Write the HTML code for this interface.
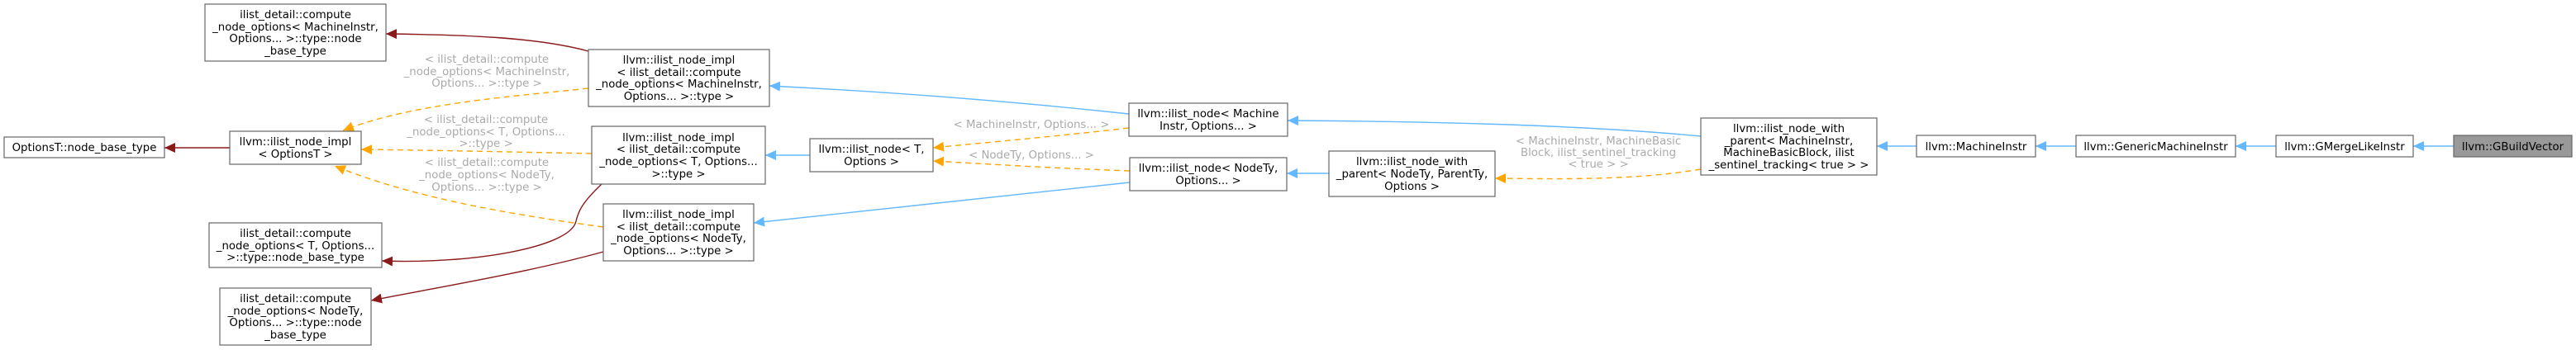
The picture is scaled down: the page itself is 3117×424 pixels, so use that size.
<!DOCTYPE html>
<html><head><meta charset="utf-8"><style>
html,body{margin:0;padding:0;background:#fff;}
svg{display:block;}
text{font-family:"DejaVu Sans","Liberation Sans",sans-serif;font-size:13.3px;fill:#000;text-anchor:middle;}
.l{fill:#aaaaaa;}
rect{fill:#fff;stroke:#666;stroke-width:1.2;}
.b{stroke:#63b8ff;fill:none;stroke-width:1.4;}
.r{stroke:#8b1a1a;fill:none;stroke-width:1.4;}
.o{stroke:#ffa500;fill:none;stroke-width:1.4;stroke-dasharray:7,5;}
</style></head><body>
<svg width="3117" height="424" viewBox="0 0 3117 424" xmlns="http://www.w3.org/2000/svg">
<defs>
<marker id="mb" markerUnits="userSpaceOnUse" markerWidth="14" markerHeight="12" refX="13" refY="6" orient="auto"><path d="M0,0 L13,6 L0,12 z" fill="#63b8ff"/></marker>
<marker id="mr" markerUnits="userSpaceOnUse" markerWidth="14" markerHeight="12" refX="13" refY="6" orient="auto"><path d="M0,0 L13,6 L0,12 z" fill="#8b1a1a"/></marker>
<marker id="mo" markerUnits="userSpaceOnUse" markerWidth="14" markerHeight="12" refX="13" refY="6" orient="auto"><path d="M0,0 L13,6 L0,12 z" fill="#ffa500"/></marker>
</defs>

<!-- edges -->
<path class="r" d="M278,179 L199,179" marker-end="url(#mr)"/>
<path class="r" d="M712,62 C650,45 560,42 467,41" marker-end="url(#mr)"/>
<path class="r" d="M728,223 C705,245 700,255 697,268 C690,300 570,320 462,316" marker-end="url(#mr)"/>
<path class="r" d="M730,305 C640,330 520,350 449,364" marker-end="url(#mr)"/>

<path class="o" d="M712,107 C620,117 500,125 415,158" marker-end="url(#mo)"/>
<path class="o" d="M716,186 C620,184 520,182 437,181" marker-end="url(#mo)"/>
<path class="o" d="M730,275 C620,260 500,240 405,201" marker-end="url(#mo)"/>

<path class="b" d="M980,188 L926,188" marker-end="url(#mb)"/>
<path class="b" d="M1366,138 C1200,120 1050,110 931,104" marker-end="url(#mb)"/>
<path class="b" d="M1367,221 C1200,240 1050,255 912,270" marker-end="url(#mb)"/>
<path class="o" d="M1366,155 C1280,165 1200,172 1129,179" marker-end="url(#mo)"/>
<path class="o" d="M1367,207 C1280,204 1200,199 1129,195" marker-end="url(#mo)"/>

<path class="b" d="M1608,210 L1557,210" marker-end="url(#mb)"/>
<path class="b" d="M2058,165 C1900,150 1700,147 1558,146" marker-end="url(#mb)"/>
<path class="o" d="M2058,205 C1980,218 1900,217 1809,216" marker-end="url(#mo)"/>

<path class="b" d="M2319,177 L2271,177" marker-end="url(#mb)"/>
<path class="b" d="M2512,177 L2463,177" marker-end="url(#mb)"/>
<path class="b" d="M2754,177 L2705,177" marker-end="url(#mb)"/>
<path class="b" d="M2969,177 L2920,177" marker-end="url(#mb)"/>

<!-- edge labels -->
<text class="l" x="589" y="76">&lt; ilist_detail::compute</text>
<text class="l" x="589" y="91">_node_options&lt; MachineInstr,</text>
<text class="l" x="589" y="105">Options... &gt;::type &gt;</text>
<text class="l" x="588" y="149">&lt; ilist_detail::compute</text>
<text class="l" x="588" y="164">_node_options&lt; T, Options...</text>
<text class="l" x="588" y="178">&gt;::type &gt;</text>
<text class="l" x="589" y="201">&lt; ilist_detail::compute</text>
<text class="l" x="589" y="216">_node_options&lt; NodeTy,</text>
<text class="l" x="589" y="231">Options... &gt;::type &gt;</text>
<text class="l" x="1248" y="155">&lt; MachineInstr, Options... &gt;</text>
<text class="l" x="1248" y="192">&lt; NodeTy, Options... &gt;</text>
<text class="l" x="1934" y="175">&lt; MachineInstr, MachineBasic</text>
<text class="l" x="1934" y="189">Block, ilist_sentinel_tracking</text>
<text class="l" x="1934" y="203">&lt; true &gt; &gt;</text>

<!-- nodes -->
<rect x="248" y="5" width="219" height="69"/>
<text x="357.5" y="22">ilist_detail::compute</text>
<text x="357.5" y="37">_node_options&lt; MachineInstr,</text>
<text x="357.5" y="51">Options... &gt;::type::node</text>
<text x="357.5" y="66">_base_type</text>

<rect x="5" y="166" width="194" height="25"/>
<text x="102" y="183">OptionsT::node_base_type</text>

<rect x="278" y="159" width="159" height="40"/>
<text x="357.5" y="176">llvm::ilist_node_impl</text>
<text x="357.5" y="191">&lt; OptionsT &gt;</text>

<rect x="253" y="270" width="209" height="54"/>
<text x="357.5" y="287">ilist_detail::compute</text>
<text x="357.5" y="302">_node_options&lt; T, Options...</text>
<text x="357.5" y="316">&gt;::type::node_base_type</text>

<rect x="266" y="349" width="183" height="69"/>
<text x="357.5" y="366">ilist_detail::compute</text>
<text x="357.5" y="381">_node_options&lt; NodeTy,</text>
<text x="357.5" y="395">Options... &gt;::type::node</text>
<text x="357.5" y="410">_base_type</text>

<rect x="712" y="60" width="219" height="69"/>
<text x="821.5" y="77">llvm::ilist_node_impl</text>
<text x="821.5" y="92">&lt; ilist_detail::compute</text>
<text x="821.5" y="106">_node_options&lt; MachineInstr,</text>
<text x="821.5" y="121">Options... &gt;::type &gt;</text>

<rect x="716" y="153" width="210" height="70"/>
<text x="821" y="171">llvm::ilist_node_impl</text>
<text x="821" y="185">&lt; ilist_detail::compute</text>
<text x="821" y="200">_node_options&lt; T, Options...</text>
<text x="821" y="215">&gt;::type &gt;</text>

<rect x="730" y="247" width="182" height="69"/>
<text x="821" y="264">llvm::ilist_node_impl</text>
<text x="821" y="279">&lt; ilist_detail::compute</text>
<text x="821" y="293">_node_options&lt; NodeTy,</text>
<text x="821" y="308">Options... &gt;::type &gt;</text>

<rect x="980" y="168" width="149" height="40"/>
<text x="1054.5" y="185">llvm::ilist_node&lt; T,</text>
<text x="1054.5" y="200">Options &gt;</text>

<rect x="1366" y="125" width="192" height="40"/>
<text x="1462" y="142">llvm::ilist_node&lt; Machine</text>
<text x="1462" y="157">Instr, Options... &gt;</text>

<rect x="1367" y="191" width="190" height="40"/>
<text x="1462" y="208">llvm::ilist_node&lt; NodeTy,</text>
<text x="1462" y="223">Options... &gt;</text>

<rect x="1608" y="183" width="201" height="55"/>
<text x="1708.5" y="200">llvm::ilist_node_with</text>
<text x="1708.5" y="215">_parent&lt; NodeTy, ParentTy,</text>
<text x="1708.5" y="230">Options &gt;</text>

<rect x="2058" y="143" width="213" height="69"/>
<text x="2164.5" y="160">llvm::ilist_node_with</text>
<text x="2164.5" y="175">_parent&lt; MachineInstr,</text>
<text x="2164.5" y="189">MachineBasicBlock, ilist</text>
<text x="2164.5" y="204">_sentinel_tracking&lt; true &gt; &gt;</text>

<rect x="2319" y="164" width="144" height="26"/>
<text x="2391" y="182">llvm::MachineInstr</text>

<rect x="2512" y="164" width="193" height="26"/>
<text x="2608.5" y="182">llvm::GenericMachineInstr</text>

<rect x="2754" y="164" width="166" height="26"/>
<text x="2837" y="182">llvm::GMergeLikeInstr</text>

<rect x="2969" y="164" width="143" height="26" style="fill:#999999"/>
<text x="3040.5" y="182">llvm::GBuildVector</text>
</svg>
</body></html>
